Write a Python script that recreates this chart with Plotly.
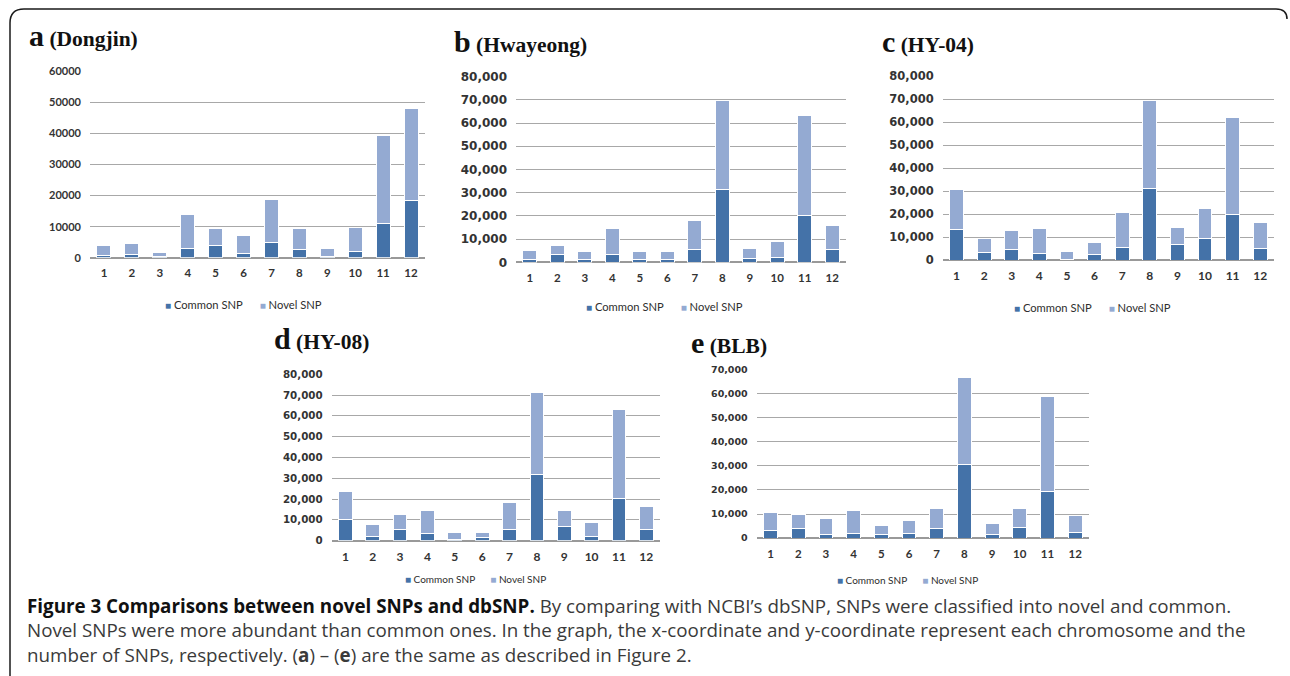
import plotly.graph_objects as go

W, H = 1290, 676

chromosomes = ["1", "2", "3", "4", "5", "6", "7", "8", "9", "10", "11", "12"]

# (a) Dongjin
common_a = [900, 1200, 300, 2900, 3800, 1400, 4800, 2600, 500, 2100, 10900, 18400]
novel_a = [3200, 3400, 1400, 11100, 5600, 5900, 13800, 6800, 2600, 7600, 28400, 29700]
# (b) Hwayeong
common_b = [1400, 3200, 1100, 3200, 1100, 1100, 5500, 31300, 1600, 2000, 20000, 5500]
novel_b = [3900, 3900, 3500, 11400, 3800, 3400, 12700, 38600, 4200, 6800, 43300, 10400]
# (c) HY-04
common_c = [13100, 3400, 4700, 2900, 400, 2500, 5500, 31300, 6800, 9200, 19800, 5000]
novel_c = [17500, 5800, 8000, 10900, 3500, 5100, 15300, 37900, 7200, 13100, 42300, 11200]
# (d) HY-08
common_d = [10300, 2100, 5200, 3200, 500, 1300, 5200, 31900, 6900, 1800, 20100, 5500]
novel_d = [13500, 5900, 7500, 11300, 3500, 2700, 13200, 39300, 7600, 6900, 43000, 11100]
# (e) BLB
common_e = [3200, 3900, 1400, 2000, 1400, 1800, 4000, 30700, 1400, 4300, 19300, 2200]
novel_e = [7300, 5900, 6700, 9400, 3800, 5600, 8400, 36000, 4500, 8100, 39700, 7300]

series_names = ["Common SNP", "Novel SNP"]
panel_letters = ["a", "b", "c", "d", "e"]
panel_names = ["(Dongjin)", "(Hwayeong)", "(HY-04)", "(HY-08)", "(BLB)"]
y_max = [60000, 80000, 80000, 80000, 70000]

COMMON = "#4472a8"
NOVEL = "#94aad2"
GRID = "#a8a8a8"
TICK = "#333333"

# the photographed page is offset 8px down and compressed 0.975x vertically,
# so target pixel rows are converted before being turned into paper fractions
V_OFF, V_SCALE = 8.0, 0.975


def px(x):
    return x / W


def py(y):
    return 1 - ((y - V_OFF) / V_SCALE) / H


# plot areas in target pixels: x0, x1, y_top, y_bottom
geom = [
    (90, 425, 71.7, 257.7),
    (516, 846, 77.3, 262.3),
    (942.7, 1274, 76.7, 260),
    (331.7, 660, 373.7, 539.3),
    (756.7, 1089, 369.3, 536.7),
]
ytick_font = [
    dict(family="Lato", size=11, weight="bold", color=TICK),
    dict(family="DejaVu Sans", size=12, weight="bold", color=TICK),
    dict(family="DejaVu Sans", size=11.5, weight="bold", color=TICK),
    dict(family="DejaVu Sans", size=10.3, weight="bold", color=TICK),
    dict(family="DejaVu Sans", size=9.5, weight="bold", color=TICK),
]
xtick_size = [11.5, 11.5, 12, 12, 11.5]
tickformats = ["d", ",d", ",d", ",d", ",d"]
title_pos = [(27, 36), (452, 42), (880, 42), (272, 338), (689, 342)]
legend_pos = [(243, 304), (664, 306), (1092, 307), (475, 577), (907, 578)]
legend_size = [11.2, 11.2, 11.2, 10, 10]

data = [
    (common_a, novel_a),
    (common_b, novel_b),
    (common_c, novel_c),
    (common_d, novel_d),
    (common_e, novel_e),
]

fig = go.Figure()
annotations = []

for i, (common, novel) in enumerate(data):
    n = "" if i == 0 else str(i + 1)
    xa, ya = "x" + n, "y" + n
    fig.add_trace(go.Bar(
        x=chromosomes, y=common, name=series_names[0], xaxis=xa, yaxis=ya,
        marker=dict(color=COMMON, line=dict(color="white", width=1)),
        showlegend=False,
    ))
    fig.add_trace(go.Bar(
        x=chromosomes, y=novel, name=series_names[1], xaxis=xa, yaxis=ya,
        marker=dict(color=NOVEL, line=dict(color="white", width=1)),
        showlegend=False,
    ))
    x0, x1, yt, yb = geom[i]
    fig.update_layout(**{
        "xaxis" + n: dict(
            domain=[px(x0), px(x1)], anchor=ya, type="category",
            showgrid=False, zeroline=False, showline=False,
            ticks="", ticklabelstandoff=7,
            tickfont=dict(family="Lato", size=xtick_size[i], weight="bold", color=TICK),
        ),
        "yaxis" + n: dict(
            domain=[py(yb), py(yt)], anchor=xa,
            range=[0, y_max[i]], dtick=10000, tickformat=tickformats[i],
            showgrid=True, gridcolor=GRID, gridwidth=1,
            zeroline=True, zerolinecolor="#999999", zerolinewidth=1.5,
            showline=False, ticks="", ticklabelstandoff=8,
            tickfont=ytick_font[i],
        ),
    })
    tx, ty = title_pos[i]
    annotations.append(dict(
        x=px(tx), y=py(ty), xref="paper", yref="paper",
        xanchor="left", yanchor="middle", showarrow=False,
        text="<b><span style='font-size:30px'>" + panel_letters[i] + "</span> "
             + panel_names[i] + "</b>",
        font=dict(family="Liberation Serif", size=21.5, color="#111111"),
    ))
    lx, ly = legend_pos[i]
    annotations.append(dict(
        x=px(lx), y=py(ly), xref="paper", yref="paper",
        xanchor="center", yanchor="middle", showarrow=False,
        text="<span style='color:" + COMMON + ";font-size:10px'>■</span> " + series_names[0]
             + "      <span style='color:" + NOVEL + ";font-size:10px'>■</span> " + series_names[1],
        font=dict(family="Lato", size=legend_size[i], color="#2e2e2e"),
    ))

caption = (
    "<b><span style='color:#111111'>Figure 3 Comparisons between novel SNPs and dbSNP.</span></b>"
    " By comparing with NCBI’s dbSNP, SNPs were classified into novel and common.<br>"
    "Novel SNPs were more abundant than common ones. In the graph, the x-coordinate and "
    "y-coordinate represent each chromosome and the<br>"
    "number of SNPs, respectively. (<b>a</b>) – (<b>e</b>) are the same as described in Figure 2."
)
annotations.append(dict(
    x=px(25), y=py(589), xref="paper", yref="paper",
    xanchor="left", yanchor="top", align="left", showarrow=False,
    text=caption,
    font=dict(family="Open Sans", size=18.8, color="#3a3a3a"),
))

frame = (
    f"M {px(10)},{py(700)} L {px(10)},{py(24)} Q {px(10)},{py(10)} {px(24)},{py(10)} "
    f"L {px(1276)},{py(10)} Q {px(1287)},{py(10)} {px(1287)},{py(20)}"
)

fig.update_layout(
    width=W, height=H,
    margin=dict(l=0, r=0, t=0, b=0),
    paper_bgcolor="white", plot_bgcolor="white",
    barmode="stack", bargap=0.5,
    annotations=annotations,
    shapes=[dict(type="path", path=frame, xref="paper", yref="paper",
                 line=dict(color="#1a1a1a", width=1.5))],
)

fig.write_html(
    "out.html",
    config={"displayModeBar": False},
    post_script="document.body.style.margin='0';"
                "document.body.style.overflow='hidden';"
                "document.documentElement.style.overflow='hidden';",
)
